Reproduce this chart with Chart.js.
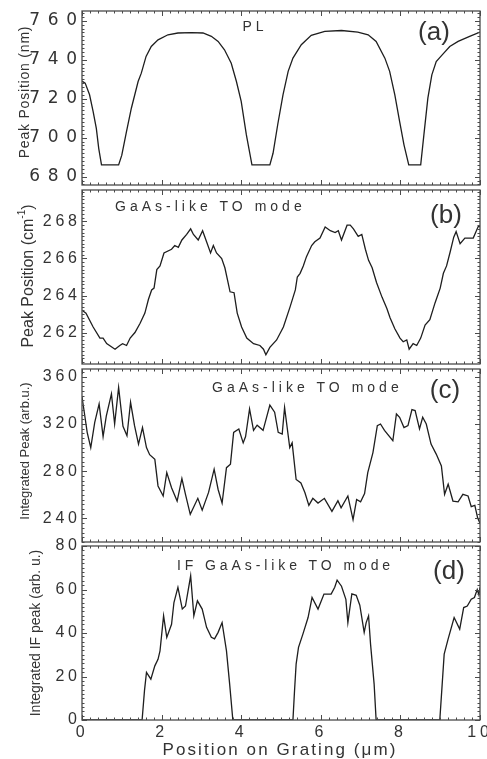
<!DOCTYPE html>
<html>
<head>
<meta charset="utf-8">
<script src="https://cdn.jsdelivr.net/npm/chart.js@4.4.1/dist/chart.umd.min.js"></script>
<style>
  html, body { margin: 0; padding: 0; background: #fff; }
  #wrap { position: relative; width: 487px; height: 759px; overflow: hidden; }
  #wrap canvas { position: absolute; left: 0; }
</style>
</head>
<body>
<div id="wrap"></div>
<script>
// (a) PL peak position (nm)
const xA = [0, 0.08, 0.19, 0.28, 0.36, 0.42, 0.49, 0.92, 1.0, 1.11, 1.24, 1.41, 1.49, 1.61, 1.74, 1.91, 2.16, 2.41, 2.75, 3.04, 3.25, 3.42, 3.58, 3.75, 3.88, 4.0, 4.13, 4.27, 4.72, 4.8, 4.92, 5.05, 5.18, 5.3, 5.51, 5.76, 6.1, 6.52, 6.93, 7.19, 7.39, 7.61, 7.73, 7.86, 7.98, 8.09, 8.21, 8.51, 8.59, 8.69, 8.79, 8.9, 9.05, 9.24, 9.45, 9.74, 10];
const yA = [729, 728, 722, 713.4, 704.8, 694.5, 686, 686, 691, 702.3, 715.1, 728.8, 733.1, 741.7, 746.8, 750.2, 752.8, 753.7, 753.9, 753.7, 752, 749.4, 745.1, 738.2, 728.8, 718.6, 701.4, 686, 686, 692, 707, 722, 734, 740.8, 747.7, 752.5, 754.5, 755, 754.2, 752.8, 749.4, 740.8, 734, 722, 708.3, 696.3, 686, 686, 701.4, 720.3, 732.2, 739.1, 742.5, 746.8, 749.4, 752, 754.2];

// (b) GaAs-like TO mode peak position (cm-1)
const xB = [0, 0.1, 0.28, 0.45, 0.53, 0.62, 0.83, 0.95, 1.02, 1.12, 1.21, 1.33, 1.46, 1.58, 1.67, 1.75, 1.81, 1.88, 1.96, 2.06, 2.25, 2.33, 2.42, 2.51, 2.63, 2.73, 2.8, 2.92, 3.03, 3.13, 3.23, 3.3, 3.38, 3.51, 3.59, 3.72, 3.82, 3.9, 4.01, 4.14, 4.31, 4.47, 4.56, 4.62, 4.72, 4.89, 5.06, 5.23, 5.36, 5.41, 5.48, 5.56, 5.64, 5.77, 5.85, 5.98, 6.11, 6.24, 6.36, 6.44, 6.52, 6.66, 6.74, 6.82, 6.94, 7.03, 7.12, 7.2, 7.29, 7.4, 7.54, 7.66, 7.74, 7.86, 7.99, 8.07, 8.16, 8.22, 8.32, 8.41, 8.51, 8.62, 8.74, 8.87, 9.0, 9.08, 9.16, 9.25, 9.34, 9.4, 9.5, 9.62, 9.83, 9.96, 10];
const yB = [263.2, 263.05, 262.3, 261.7, 261.7, 261.4, 261.1, 261.3, 261.4, 261.3, 261.7, 262.0, 262.5, 263.05, 263.8, 264.3, 264.4, 265.4, 265.6, 266.3, 266.5, 266.7, 266.6, 267.0, 267.3, 267.6, 267.3, 267.0, 267.5, 266.9, 266.3, 266.7, 266.3, 266.0, 265.5, 264.2, 264.15, 263.05, 262.3, 261.7, 261.4, 261.3, 261.1, 260.8, 261.2, 261.6, 262.3, 263.4, 264.3, 265.0, 265.2, 265.6, 266.1, 266.7, 266.9, 267.1, 267.7, 267.5, 267.4, 267.5, 267.0, 267.8, 267.8, 267.6, 267.2, 267.3, 266.5, 265.9, 265.5, 264.7, 263.9, 263.3, 262.8, 262.2, 261.7, 261.5, 261.6, 261.1, 261.4, 261.3, 261.7, 262.4, 262.7, 263.6, 264.4, 265.2, 265.6, 266.35, 267.15, 267.45, 266.8, 267.1, 267.1, 267.75, 267.7];

// (c) GaAs-like TO mode integrated peak (arb. u.)
const xC = [0, 0.07, 0.13, 0.22, 0.32, 0.43, 0.53, 0.61, 0.74, 0.82, 0.92, 1.03, 1.13, 1.22, 1.32, 1.42, 1.52, 1.62, 1.7, 1.83, 1.91, 2.04, 2.13, 2.25, 2.39, 2.51, 2.6, 2.72, 2.91, 3.02, 3.18, 3.32, 3.42, 3.52, 3.63, 3.73, 3.81, 3.94, 4.05, 4.11, 4.21, 4.31, 4.4, 4.55, 4.72, 4.84, 4.93, 5.03, 5.09, 5.22, 5.28, 5.38, 5.5, 5.6, 5.7, 5.8, 5.93, 6.09, 6.28, 6.43, 6.51, 6.68, 6.81, 6.9, 7.0, 7.1, 7.18, 7.31, 7.42, 7.5, 7.6, 7.81, 7.9, 7.98, 8.09, 8.19, 8.29, 8.37, 8.48, 8.56, 8.65, 8.77, 8.9, 9.03, 9.11, 9.2, 9.32, 9.45, 9.57, 9.7, 9.78, 9.87, 9.94, 10];
const yC = [343, 327, 312.9, 300, 321.4, 337, 309.4, 326.6, 345.5, 320, 351, 318, 310, 338.4, 318.6, 303, 317, 300, 294, 290, 267.5, 259, 278.8, 266, 254.7, 273.7, 260.4, 243.4, 257, 247, 262, 281.7, 264.5, 253, 283, 286, 312.9, 315.7, 304, 309.4, 332.8, 314.6, 319, 314.6, 336, 330, 313, 311.5, 334, 300, 304, 273, 270, 262, 251, 257, 253, 257, 246, 255, 249, 259, 239, 256, 254, 261, 278.8, 295.8, 318.6, 320, 314.6, 305.8, 328.5, 325.7, 317, 318.6, 332.2, 331.4, 315.8, 325.7, 320, 303, 294.5, 284.5, 260.4, 269, 254.7, 254, 260.4, 259, 250, 251, 240.5, 236];

// (d) IF GaAs-like TO mode integrated peak (arb. u.)
const xD = [0, 1.51, 1.57, 1.62, 1.73, 1.83, 1.91, 1.96, 2.05, 2.13, 2.25, 2.31, 2.41, 2.52, 2.6, 2.73, 2.81, 2.9, 3.02, 3.13, 3.25, 3.33, 3.42, 3.52, 3.63, 3.71, 3.79, 5.3, 5.34, 5.38, 5.44, 5.55, 5.68, 5.78, 5.93, 6.08, 6.26, 6.35, 6.41, 6.52, 6.63, 6.68, 6.78, 6.89, 6.98, 7.09, 7.14, 7.2, 7.25, 7.34, 7.39, 8.99, 9.05, 9.1, 9.2, 9.35, 9.49, 9.59, 9.68, 9.78, 9.86, 9.93, 9.97, 10];
const yD = [0, 0, 13.5, 21.9, 18.8, 24.9, 27.9, 31.8, 47.9, 38, 44, 54, 61, 51, 52.4, 66.3, 47.9, 54.8, 51, 42.6, 38, 37.3, 40.3, 44.8, 31.8, 16.5, 0, 0, 13.5, 25.7, 33.4, 39.5, 47.1, 56.3, 51, 57.9, 57.9, 61, 64.3, 61.5, 55.5, 44.8, 58, 57.3, 52.8, 40.3, 44.8, 47.9, 34.9, 16.5, 0, 0, 16.5, 30.3, 37.3, 47.1, 41.8, 51.7, 52.4, 55.5, 56.3, 60, 57.6, 61];

// tick values
const xTicks = [0, 2, 4, 6, 8, 10];
const ticksA = [680, 700, 720, 740, 760];
const ticksB = [262, 264, 266, 268];
const ticksC = [240, 280, 320, 360];
const ticksD = [0, 20, 40, 60, 80];

const xTitle = 'Position on Grating (\u03bcm)';

const FONT = "'Liberation Sans', Arial, sans-serif";
const WIDE = "'DejaVu Sans', sans-serif";
const INK = '#1e1e1e';
const FRAME = '#4a4a4a';
const TXT = '#333';

// frame, inward ticks and text labels, drawn from the chart's own scales
const framePlugin = {
  id: 'frame',
  beforeDraw(chart, args, o) {
    chart.ctx.letterSpacing = o.spacing + 'px';
  },
  afterDraw(chart, args, o) {
    const ctx = chart.ctx;
    const a = chart.chartArea;
    const sx = chart.scales.x, sy = chart.scales.y;
    ctx.save();
    ctx.letterSpacing = '0px';
    ctx.strokeStyle = FRAME;
    ctx.lineWidth = 1.3;
    ctx.strokeRect(a.left, a.top, a.right - a.left, a.bottom - a.top);

    ctx.lineWidth = 1;
    ctx.beginPath();
    for (let i = 0; i <= 50; i++) {
      const px = Math.round(sx.getPixelForValue(i * 0.2)) + 0.5;
      const len = i % 10 === 0 ? 5 : 2.5;
      ctx.moveTo(px, a.bottom); ctx.lineTo(px, a.bottom - len);
      ctx.moveTo(px, a.top); ctx.lineTo(px, a.top + len);
    }
    const minor = o.yStep / 10;
    for (let k = Math.ceil(sy.min / minor - 1e-6); k * minor <= sy.max + 1e-6; k++) {
      const v = k * minor;
      const py = Math.round(sy.getPixelForValue(v)) + 0.5;
      const len = k % 10 === 0 ? 5 : 2.5;
      ctx.moveTo(a.left, py); ctx.lineTo(a.left + len, py);
      ctx.moveTo(a.right, py); ctx.lineTo(a.right - len, py);
    }
    ctx.stroke();

    const off = o.canvasTop;
    ctx.fillStyle = TXT;
    ctx.textBaseline = 'middle';
    o.texts.forEach(t => {
      ctx.font = t.size + 'px ' + FONT;
      ctx.letterSpacing = (t.sp || 0) + 'px';
      ctx.textAlign = t.align || 'center';
      ctx.fillText(t.t, t.x, t.y - off);
    });

    // rotated y title, possibly with a superscript part
    const yt = o.yTitle;
    ctx.save();
    ctx.translate(yt.x, yt.y - off);
    ctx.rotate(-Math.PI / 2);
    ctx.letterSpacing = (yt.sp || 0) + 'px';
    ctx.textAlign = 'left';
    let total = 0;
    yt.parts.forEach(p => { ctx.font = p.size + 'px ' + FONT; total += ctx.measureText(p.t).width; });
    let cx = -total / 2;
    yt.parts.forEach(p => {
      ctx.font = p.size + 'px ' + FONT;
      ctx.fillText(p.t, cx, -(p.rise || 0));
      cx += ctx.measureText(p.t).width;
    });
    ctx.restore();
    ctx.restore();
  }
};

const panels = [
  {
    xs: xA, ys: yA, top: 11, bottom: 185, min: 675.7, max: 765, ticks: ticksA, step: 20,
    spacing: 7.6, labelPad: -2.6, tickFont: { family: WIDE, size: 17 },
    yTitle: { x: 25, y: 92, sp: 0.8, parts: [{ t: 'Peak Position (nm)', size: 14 }] },
    texts: [
      { t: 'PL', x: 255, y: 27, size: 14, sp: 4 },
      { t: '(a)', x: 434, y: 33, size: 26 }
    ]
  },
  {
    xs: xB, ys: yB, top: 190, bottom: 364, min: 260.3, max: 269.7, ticks: ticksB, step: 2,
    spacing: 3.8, labelPad: 1.2,
    yTitle: { x: 29, y: 276, sp: 0, parts: [{ t: 'Peak Position (cm', size: 16 }, { t: '-1', size: 10, rise: 7 }, { t: ')', size: 16 }] },
    texts: [
      { t: 'GaAs-like TO mode', x: 115, y: 207, size: 14, sp: 4, align: 'left' },
      { t: '(b)', x: 446, y: 216, size: 26 }
    ]
  },
  {
    xs: xC, ys: yC, top: 369, bottom: 542, min: 220, max: 366.6, ticks: ticksC, step: 40,
    spacing: 3.8, labelPad: 1.2,
    yTitle: { x: 25, y: 451, sp: 0, parts: [{ t: 'Integrated Peak (arb.u.)', size: 13 }] },
    texts: [
      { t: 'GaAs-like TO mode', x: 212, y: 388, size: 14, sp: 4, align: 'left' },
      { t: '(c)', x: 445, y: 391, size: 26 }
    ]
  },
  {
    xs: xD, ys: yD, top: 546, bottom: 720, min: 0, max: 80, ticks: ticksD, step: 20,
    spacing: 3.8, labelPad: 1.2, showX: true,
    yTitle: { x: 36, y: 633, sp: 0, parts: [{ t: 'Integrated IF peak (arb. u.)', size: 14 }] },
    texts: [
      { t: 'IF GaAs-like TO mode', x: 177, y: 566, size: 14, sp: 3.9, align: 'left' },
      { t: '(d)', x: 449, y: 572, size: 26 },
      { t: xTitle, x: 280, y: 750, size: 17, sp: 2.1 }
    ]
  }
];

const PAD_TOP = 12;
const wrap = document.getElementById('wrap');

panels.forEach(p => {
  const bottomPad = p.showX ? 759 - p.bottom : 4;
  const canvasTop = p.top - PAD_TOP;
  const cv = document.createElement('canvas');
  cv.width = 487;
  cv.height = p.bottom - p.top + PAD_TOP + bottomPad;
  cv.style.top = canvasTop + 'px';
  wrap.appendChild(cv);

  new Chart(cv.getContext('2d'), {
    type: 'line',
    data: {
      datasets: [{
        data: p.xs.map((x, i) => ({ x: x, y: p.ys[i] })),
        borderColor: INK,
        borderWidth: 1.3,
        pointRadius: 0,
        tension: 0,
        fill: false
      }]
    },
    options: {
      responsive: false,
      animation: false,
      events: [],
      layout: { padding: { top: PAD_TOP, right: 7, left: 0, bottom: 0 } },
      plugins: {
        legend: { display: false },
        tooltip: { enabled: false },
        frame: { spacing: p.spacing, yStep: p.step, texts: p.texts, yTitle: p.yTitle, canvasTop: canvasTop }
      },
      scales: {
        x: {
          type: 'linear', min: 0, max: 10,
          grid: { display: false, drawTicks: false },
          border: { display: false },
          ticks: { display: !!p.showX, font: { family: FONT, size: 16 }, color: TXT, padding: 3, maxRotation: 0 },
          afterBuildTicks: s => { s.ticks = xTicks.map(v => ({ value: v })); },
          afterFit: s => { s.height = bottomPad; s.paddingLeft = 0; s.paddingRight = 0; }
        },
        y: {
          type: 'linear', min: p.min, max: p.max,
          grid: { display: false, drawTicks: false },
          border: { display: false },
          ticks: { font: p.tickFont || { family: FONT, size: 16 }, color: TXT, padding: p.labelPad },
          afterBuildTicks: s => { s.ticks = p.ticks.map(v => ({ value: v })); },
          afterFit: s => { s.width = 82; s.paddingTop = 0; s.paddingBottom = 0; }
        }
      }
    },
    plugins: [framePlugin]
  });
});
</script>
</body>
</html>
